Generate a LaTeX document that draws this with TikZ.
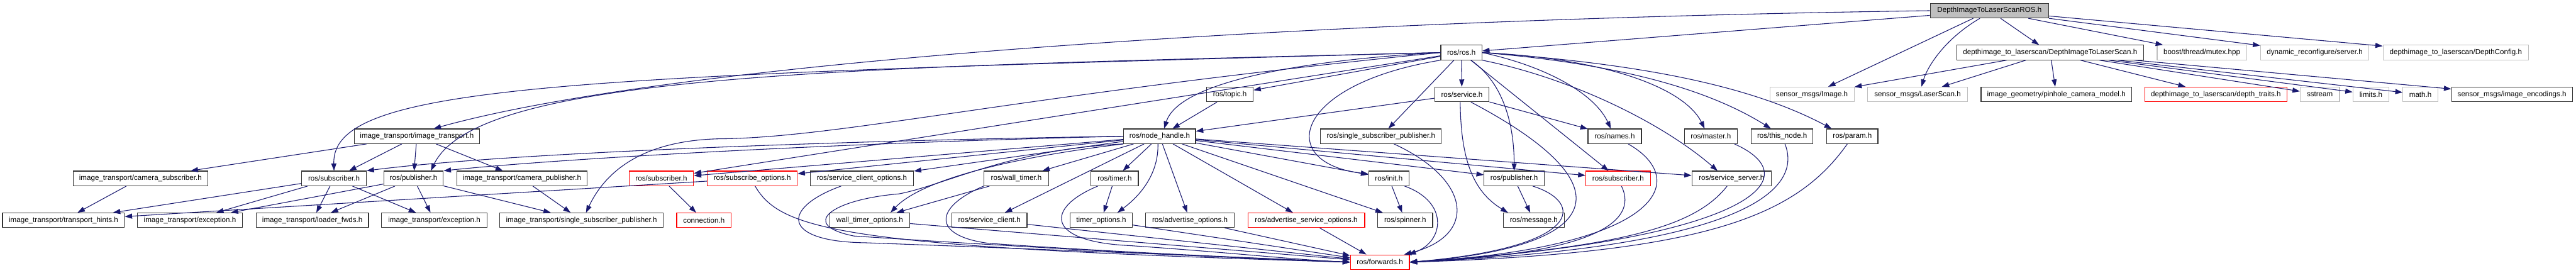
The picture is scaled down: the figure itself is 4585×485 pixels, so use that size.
\documentclass[tikz,border=0pt]{standalone}
\usepackage{fontspec}
\setmainfont{Liberation Sans}
\usepackage{tikz}
\usetikzlibrary{arrows.meta, positioning}
\definecolor{edgeblue}{HTML}{191970}
\definecolor{sysgray}{HTML}{BFBFBF}

\begin{document}
\begin{tikzpicture}[x=1pt, y=-1pt,
      hfile/.style={draw=black!80, fill=white, line width=1.3pt,
                    minimum height=26pt, inner sep=0pt,
                    font=\fontsize{13}{15}\selectfont},
      sysfile/.style={hfile, draw=sysgray},
      missfile/.style={hfile, draw=red},
      rootfile/.style={hfile, fill=sysgray},
      inc/.style={draw=edgeblue, line width=1.2pt,
                  -{Triangle[length=13pt, width=9pt]}}]

    \path[fill=white] (0,0) rectangle (4585,485);

    % ── Racine ──
    \node[rootfile, minimum width=211pt] (root) at (3541,19) {DepthImageToLaserScanROS.h};

    % ── Rang 1 ──
    \node[hfile, minimum width=73pt] (rosh) at (2601,93.5) {ros/ros.h};
    \node[hfile, minimum width=333pt] (d2ls) at (3649,93.5) {depthimage\_to\_laserscan/DepthImageToLaserScan.h};
    \node[sysfile, minimum width=159pt] (mutex) at (3919,93.5) {boost/thread/mutex.hpp};
    \node[sysfile, minimum width=193pt] (dynsrv) at (4120,93.5) {dynamic\_reconfigure/server.h};
    \node[sysfile, minimum width=259pt] (dcfg) at (4371,93.5) {depthimage\_to\_laserscan/DepthConfig.h};

    % ── Rang 2 ──
    \node[hfile, minimum width=83pt] (topic) at (2189,168) {ros/topic.h};
    \node[hfile, minimum width=97pt] (service) at (2602,168) {ros/service.h};
    \node[sysfile, minimum width=150pt] (img) at (3225,168) {sensor\_msgs/Image.h};
    \node[sysfile, minimum width=178pt] (scan) at (3413,168) {sensor\_msgs/LaserScan.h};
    \node[hfile, minimum width=268pt] (pinhole) at (3660,168) {image\_geometry/pinhole\_camera\_model.h};
    \node[missfile, minimum width=253pt] (traits) at (3944,168) {depthimage\_to\_laserscan/depth\_traits.h};
    \node[sysfile, minimum width=70pt] (sstream) at (4129,168) {sstream};
    \node[sysfile, minimum width=64pt] (limits) at (4220,168) {limits.h};
    \node[sysfile, minimum width=62pt] (math) at (4308,168) {math.h};
    \node[hfile, minimum width=215pt] (enc) at (4471,168) {sensor\_msgs/image\_encodings.h};

    % ── Rang 3 ──
    \node[hfile, minimum width=223pt] (it) at (742,242.5) {image\_transport/image\_transport.h};
    \node[hfile, minimum width=128pt] (nh) at (2064,242.5) {ros/node\_handle.h};
    \node[hfile, minimum width=215pt] (rssp) at (2458,242.5) {ros/single\_subscriber\_publisher.h};
    \node[hfile, minimum width=95pt] (names) at (2874,242.5) {ros/names.h};
    \node[hfile, minimum width=94pt] (master) at (3045,242.5) {ros/master.h};
    \node[hfile, minimum width=110pt] (thisnode) at (3172,242.5) {ros/this\_node.h};
    \node[hfile, minimum width=91pt] (param) at (3297,242.5) {ros/param.h};

    % ── Rang 4 ──
    \node[hfile, minimum width=240pt] (camsub) at (250,317.5) {image\_transport/camera\_subscriber.h};
    \node[hfile, minimum width=115pt] (itsub) at (594.5,317.5) {ros/subscriber.h};
    \node[hfile, minimum width=106pt] (itpub) at (736,317.5) {ros/publisher.h};
    \node[hfile, minimum width=232pt] (campub) at (929,317.5) {image\_transport/camera\_publisher.h};
    \node[missfile, minimum width=115pt] (sub1) at (1177,317.5) {ros/subscriber.h};
    \node[missfile, minimum width=160pt] (subopt) at (1339,317.5) {ros/subscribe\_options.h};
    \node[hfile, minimum width=184pt] (scopt) at (1534,317.5) {ros/service\_client\_options.h};
    \node[hfile, minimum width=115pt] (wtimer) at (1809,317.5) {ros/wall\_timer.h};
    \node[hfile, minimum width=84pt] (timer) at (1984,317.5) {ros/timer.h};
    \node[hfile, minimum width=72pt] (init) at (2472,317.5) {ros/init.h};
    \node[hfile, minimum width=107pt] (pub2) at (2695,317.5) {ros/publisher.h};
    \node[missfile, minimum width=115pt] (sub2) at (2880,317.5) {ros/subscriber.h};
    \node[hfile, minimum width=141pt] (ssrv) at (3082,317.5) {ros/service\_server.h};

    % ── Rang 5 ──
    \node[hfile, minimum width=217pt] (hints) at (113,392) {image\_transport/transport\_hints.h};
    \node[hfile, minimum width=187pt] (exc1) at (338,392) {image\_transport/exception.h};
    \node[hfile, minimum width=200pt] (loader) at (556,392) {image\_transport/loader\_fwds.h};
    \node[hfile, minimum width=188pt] (exc2) at (773,392) {image\_transport/exception.h};
    \node[hfile, minimum width=291pt] (itssp) at (1035,392) {image\_transport/single\_subscriber\_publisher.h};
    \node[missfile, minimum width=97pt] (conn) at (1253,392) {connection.h};
    \node[hfile, minimum width=142pt] (wtopt) at (1548,392) {wall\_timer\_options.h};
    \node[hfile, minimum width=134pt] (sclient) at (1761,392) {ros/service\_client.h};
    \node[hfile, minimum width=110pt] (topt) at (1960,392) {timer\_options.h};
    \node[hfile, minimum width=158pt] (advopt) at (2118,392) {ros/advertise\_options.h};
    \node[missfile, minimum width=208pt] (advsopt) at (2325,392) {ros/advertise\_service\_options.h};
    \node[hfile, minimum width=98pt] (spinner) at (2501,392) {ros/spinner.h};
    \node[hfile, minimum width=109pt] (message) at (2730,392) {ros/message.h};

    % ── Rang 6 ──
    \node[missfile, minimum width=105pt] (fwd) at (2456,466.5) {ros/forwards.h};

    % ── Flèches : racine ──
    \draw[inc] (root) -- (rosh);
    \draw[inc] (root.west) .. controls (2300,35) and (1200,110) .. ([xshift=30pt]it.north);
    \draw[inc] (root) -- (img);
    \draw[inc] ([xshift=-17pt]root.south) .. controls (3460,70) and (3430,120) .. ([xshift=7pt]scan.north);
    \draw[inc] (root) -- (d2ls);
    \draw[inc] (root) -- (mutex);
    \draw[inc] (root) -- (dynsrv);
    \draw[inc] (root) -- (dcfg);

    % ── Flèches : DepthImageToLaserScan.h ──
    \draw[inc] (d2ls) -- (img);
    \draw[inc] (d2ls) -- (scan);
    \draw[inc] (d2ls) -- (pinhole);
    \draw[inc] (d2ls) -- (traits);
    \draw[inc] (d2ls) -- (sstream);
    \draw[inc] (d2ls) -- (limits);
    \draw[inc] (d2ls) -- (math);
    \draw[inc] (d2ls) -- (enc);

    % ── Flèches : ros/ros.h ──
    \draw[inc] (rosh) -- (service);
    \draw[inc] (rosh) -- (rssp);
    \draw[inc] (rosh) -- (topic);
    \draw[inc] (rosh) -- (sub2);
    \draw[inc] (rosh) -- (sub1);
    \draw[inc] (rosh.south west) .. controls (2300,150) and (2270,290) .. ([yshift=8pt]init.west);
    \draw[inc] ([xshift=17pt]rosh.south) .. controls (2680,150) and (2695,230) .. (pub2.north);
    \draw[inc] (rosh.east) .. controls (2760,120) and (2840,170) .. ([xshift=-7pt]names.north);
    \draw[inc] (rosh.east) .. controls (2870,105) and (3000,160) .. ([xshift=-11pt]master.north);
    \draw[inc] (rosh.east) .. controls (2900,115) and (3050,165) .. ([xshift=-20pt]thisnode.north);
    \draw[inc] (rosh.east) .. controls (2950,115) and (3130,160) .. ([xshift=-37pt]param.north);
    \draw[inc] (rosh.south east) .. controls (2800,140) and (2960,220) .. ([xshift=-25pt]ssrv.north);
    \draw[inc] (rosh.west) .. controls (2350,105) and (2100,140) .. ([xshift=8pt]nh.north);
    \draw[inc] (rosh.west) .. controls (1000,135) and (590,150) .. (itsub.north);
    \draw[inc] (rosh.west) .. controls (1500,120) and (850,130) .. ([xshift=31pt]itpub.north);
    \draw[inc] (rosh.west) .. controls (1800,170) and (1500,245) .. (1280,247)
                .. controls (1150,250) and (1080,300) .. ([xshift=8pt]itssp.north);

    % ── Flèches : ros/service.h ──
    \draw[inc] (service) -- (nh);
    \draw[inc] (service) -- (names);
    \draw[inc] ([xshift=-3pt]service.south) .. controls (2600,280) and (2620,340) .. ([xshift=-46pt]message.north);
    \draw[inc] ([xshift=16pt]service.south) .. controls (2900,330) and (2860,440) .. (fwd.east);

    % ── Flèches vers ros/forwards.h (droite) ──
    \draw[inc] ([xshift=23pt]rssp.south) .. controls (2620,320) and (2630,420) .. ([xshift=-10pt]fwd.north east);
    \draw[inc] ([xshift=28pt]init.south) .. controls (2580,360) and (2570,430) .. ([xshift=-2pt]fwd.north east);
    \draw[inc] ([xshift=33pt]pub2.south) .. controls (2820,360) and (2820,440) .. (fwd.east);
    \draw[inc] ([xshift=6pt]sub2.south) .. controls (2910,380) and (2880,450) .. (fwd.east);
    \draw[inc] ([xshift=24pt]names.south) .. controls (3010,320) and (2960,440) .. (fwd.east);
    \draw[inc] ([xshift=42pt]master.south) .. controls (3230,320) and (3100,430) .. (fwd.east);
    \draw[inc] ([xshift=5pt]thisnode.south) .. controls (3210,340) and (3100,440) .. (fwd.east);
    \draw[inc] ([xshift=-9pt]param.south) .. controls (3200,380) and (3050,450) .. (fwd.east);
    \draw[inc] ([xshift=-8pt]ssrv.south) .. controls (3020,400) and (2900,440) .. (fwd.east);
    \draw[inc] (init) -- (spinner);
    \draw[inc] (pub2) -- (message);

    % ── Flèches : ros/node_handle.h ──
    \draw[inc] (topic) -- (nh);
    \draw[inc] (nh.west) .. controls (1500,250) and (900,272) .. (itsub.north east);
    \draw[inc] (nh.west) .. controls (1500,254) and (1000,282) .. (itpub.north east);
    \draw[inc] (nh) -- (sub1);
    \draw[inc] (nh) -- (subopt);
    \draw[inc] (nh) -- (scopt);
    \draw[inc] (nh) -- (wtimer);
    \draw[inc] (nh) -- (sclient);
    \draw[inc] (nh) -- (timer);
    \draw[inc] ([xshift=-3pt]nh.south) .. controls (2062,300) and (2040,340) .. ([xshift=29pt]topt.north);
    \draw[inc] (nh) -- (advopt);
    \draw[inc] (nh) -- (advsopt);
    \draw[inc] (nh) -- (init);
    \draw[inc] (nh) -- (spinner);
    \draw[inc] (nh) -- (pub2);
    \draw[inc] (nh) -- (sub2);
    \draw[inc] (nh) -- (ssrv);
    \draw[inc] (nh.south west) .. controls (1800,280) and (1640,320) .. ([xshift=37pt]wtopt.north);
    \draw[inc] (nh.south west) .. controls (1800,265) and (1680,330) .. (1600,345)
                .. controls (1480,355) and (1420,400) .. (1520,420)
                .. controls (1900,445) and (2250,462) .. (fwd.west);

    % ── Flèches vers ros/forwards.h (gauche) ──
    \draw[inc] (wtimer) -- (wtopt);
    \draw[inc] (wtimer.south west) .. controls (1660,370) and (1660,420) .. (1760,433)
                .. controls (2000,450) and (2300,462) .. (fwd.west);
    \draw[inc] (timer) -- (topt);
    \draw[inc] ([xshift=-30pt]timer.south) .. controls (1860,370) and (1860,430) .. (2010,437)
                .. controls (2200,450) and (2300,462) .. (fwd.west);
    \draw[inc] ([xshift=5pt]subopt.south) .. controls (1390,410) and (1500,440) .. (fwd.west);
    \draw[inc] ([xshift=-37pt]scopt.south) .. controls (1390,370) and (1390,430) .. (1540,432)
                .. controls (1900,445) and (2250,460) .. (fwd.west);
    \draw[inc] (wtopt) -- (fwd);
    \draw[inc] (sclient) -- (fwd);
    \draw[inc] (topt) -- (fwd);
    \draw[inc] (advopt) -- (fwd);
    \draw[inc] (advsopt) -- (fwd);
    \draw[inc] (subopt) -- (hints);
    \draw[inc] (sub1) -- (conn);

    % ── Flèches : image_transport ──
    \draw[inc] (it) -- (itsub);
    \draw[inc] (it) -- (itpub);
    \draw[inc] (it) -- (campub);
    \draw[inc] (it) -- (camsub);
    \draw[inc] (camsub) -- (hints);
    \draw[inc] (itsub) -- (hints);
    \draw[inc] (itsub) -- (exc1);
    \draw[inc] (itsub) -- (loader);
    \draw[inc] (itsub) -- (exc2);
    \draw[inc] (itpub) -- (exc1);
    \draw[inc] (itpub) -- (loader);
    \draw[inc] (itpub) -- (exc2);
    \draw[inc] (itpub) -- (itssp);
    \draw[inc] (campub) -- (itssp);

  \end{tikzpicture}
\end{document}
